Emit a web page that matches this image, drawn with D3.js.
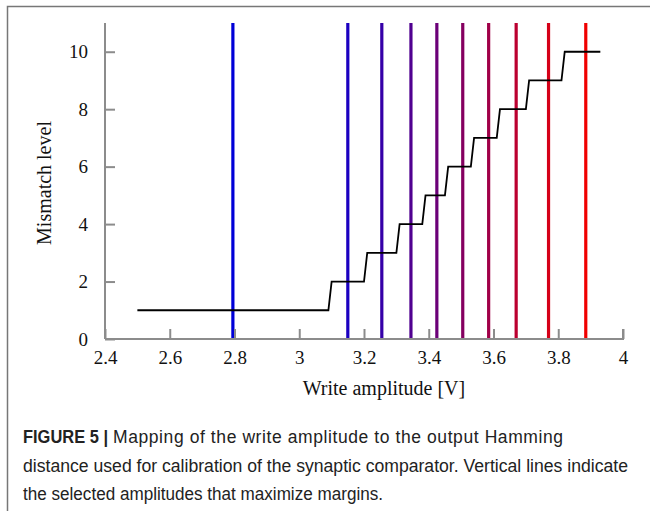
<!DOCTYPE html>
<html>
<head>
<meta charset="utf-8">
<script src="https://cdn.jsdelivr.net/npm/d3@7"></script>
<style>
    body { margin: 0; background: #fff; }
    .axis path, .axis line { stroke: #8c8c8c; stroke-width: 2px; }
</style>
</head>
<body>
<div id="chart"></div>
<script>

// step curve: write amplitude -> mismatch level
let amplitude = [2.5, 3.09, 3.10, 3.20, 3.21, 3.30, 3.31, 3.38, 3.39, 3.45, 3.46, 3.53, 3.54, 3.61, 3.62, 3.70, 3.71, 3.81, 3.82, 3.93];
let mismatch  = [1, 1, 2, 2, 3, 3, 4, 4, 5, 5, 6, 6, 7, 7, 8, 8, 9, 9, 10, 10];

// selected amplitudes (vertical lines)
let selected = [2.795, 3.15, 3.255, 3.345, 3.425, 3.505, 3.585, 3.67, 3.77, 3.885];

let xTicks = [2.4, 2.6, 2.8, 3, 3.2, 3.4, 3.6, 3.8, 4];
let yTicks = [0, 2, 4, 6, 8, 10];

let captionLines = [
    "Mapping of the write amplitude to the output Hamming",
    "distance used for calibration of the synaptic comparator. Vertical lines indicate",
    "the selected amplitudes that maximize margins."
];

let serif = "Liberation Serif";
let sans = "Liberation Sans";

let width = 650, height = 511;
let margin = {top: 23, right: 27, bottom: 172, left: 105};
let w = width - margin.left - margin.right;
let h = height - margin.top - margin.bottom;

let svg = d3.select("#chart").append("svg")
    .attr("width", width)
    .attr("height", height);

// figure frame (left + top edges)
svg.append("path")
    .attr("d", "M7.5," + height + "V6.5H" + width)
    .attr("fill", "none")
    .attr("stroke", "#777")
    .attr("stroke-width", 1.5);

let g = svg.append("g")
    .attr("transform", "translate(" + margin.left + "," + margin.top + ")");

let x = d3.scaleLinear().domain([2.4, 4]).range([0, w]);
let y = d3.scaleLinear().domain([0, 11]).range([h, 0]);

let fmt = d => String(+d.toFixed(1));

// vertical lines
let color = d3.interpolateRgb("#0000d8", "#f00000");
g.selectAll("line.sel")
    .data(selected)
    .enter()
    .append("line")
    .attr("class", "sel")
    .attr("x1", d => x(d))
    .attr("x2", d => x(d))
    .attr("y1", y(11))
    .attr("y2", y(0))
    .attr("stroke", (d, i) => color(i / (selected.length - 1)))
    .attr("stroke-width", 3.2);

// step curve
let pts = amplitude.map((a, i) => [a, mismatch[i]]);
g.append("path")
    .datum(pts)
    .attr("fill", "none")
    .attr("stroke", "#000")
    .attr("stroke-width", 1.8)
    .attr("d", d3.line().x(d => x(d[0])).y(d => y(d[1])));

// axes
let xAxis = d3.axisBottom(x)
    .tickValues(xTicks)
    .tickFormat(fmt)
    .tickSizeInner(-10)
    .tickSizeOuter(-10)
    .tickPadding(11.5);
let yAxis = d3.axisLeft(y)
    .tickValues(yTicks)
    .tickFormat(fmt)
    .tickSizeInner(-10)
    .tickSizeOuter(0)
    .tickPadding(17);

let yG = g.append("g")
    .attr("class", "y-axis axis")
    .call(yAxis);
yG.select(".domain").attr("d", "M0," + y(11) + "V" + h);

let xG = g.append("g")
    .attr("class", "x-axis axis")
    .attr("transform", "translate(0," + h + ")")
    .call(xAxis);
xG.select(".domain").attr("d", "M0,0H" + w + "V-10");

[xG, yG].forEach(a => {
    a.attr("font-family", serif).attr("font-size", 19);
    a.selectAll("text")
        .attr("font-family", serif)
        .attr("font-size", 19)
        .attr("fill", "#111");
});

// axis labels
svg.append("text")
    .attr("x", 384)
    .attr("y", 395)
    .attr("text-anchor", "middle")
    .attr("font-family", serif)
    .attr("font-size", 20)
    .attr("fill", "#111")
    .text("Write amplitude [V]");

svg.append("text")
    .attr("transform", "translate(51,183) rotate(-90)")
    .attr("text-anchor", "middle")
    .attr("font-family", serif)
    .attr("font-size", 20)
    .attr("fill", "#111")
    .text("Mismatch level");

// caption
let cap = svg.append("g")
    .attr("font-family", sans)
    .attr("font-size", 17.5)
    .attr("fill", "#222");
cap.append("text").attr("x", 23).attr("y", 443)
    .attr("font-weight", "bold")
    .attr("textLength", 85)
    .attr("lengthAdjust", "spacingAndGlyphs")
    .text("FIGURE 5 |");
cap.append("text").attr("x", 113).attr("y", 443)
    .attr("textLength", 450)
    .attr("lengthAdjust", "spacing")
    .text(captionLines[0]);
cap.append("text").attr("x", 23).attr("y", 472)
    .attr("textLength", 605)
    .attr("lengthAdjust", "spacingAndGlyphs")
    .text(captionLines[1]);
cap.append("text").attr("x", 23).attr("y", 500)
    .attr("textLength", 360)
    .attr("lengthAdjust", "spacingAndGlyphs")
    .text(captionLines[2]);

</script>
</body>
</html>
